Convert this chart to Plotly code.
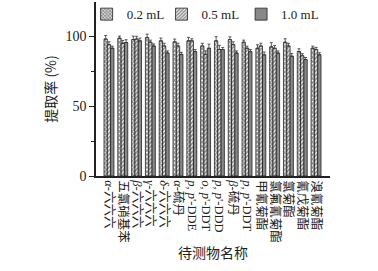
import plotly.graph_objects as go

cjk = lambda s: '<span style="font-family:Noto Sans CJK SC;font-size:12.5px">' + s + '</span>'
categories = ["<i>α</i>-" + cjk("六六六"), cjk("五氯硝基苯"), "<i>β</i>-" + cjk("六六六"), "<i>γ</i>-" + cjk("六六六"),
              "<i>δ</i>-" + cjk("六六六"), "<i>α</i>-" + cjk("硫丹"), "<i>p</i>, <i>p</i>'-DDE", "<i>o</i>, <i>p</i>'-DDT",
              "<i>p</i>, <i>p</i>'-DDD", "<i>β</i>-" + cjk("硫丹"), "<i>p</i>, <i>p</i>'-DDT", cjk("甲氰菊酯"),
              cjk("氯氟氰菊酯"), cjk("氯菊酯"), cjk("氰戊菊酯"), cjk("溴氰菊酯")]
series_names = ["0.2 mL", "0.5 mL", "1.0 mL"]
v02 = [98.0, 98.6, 97.6, 99.0, 96.7, 96.0, 96.7, 93.0, 96.7, 97.6, 95.7, 91.4, 92.4, 95.7, 89.0, 91.4]
v05 = [94.0, 95.0, 98.0, 95.7, 93.0, 93.0, 96.7, 87.0, 90.5, 94.0, 91.4, 93.0, 91.4, 93.0, 86.0, 90.5]
v10 = [91.4, 95.5, 96.7, 93.0, 88.0, 87.0, 89.0, 91.4, 90.5, 88.0, 89.0, 86.7, 88.0, 85.7, 83.3, 86.7]
e02 = [2.5, 1.5, 2.5, 2.5, 2.0, 2.0, 2.5, 2.0, 3.0, 2.0, 1.5, 2.5, 3.0, 2.5, 2.0, 1.5]
e05 = [2.0, 2.0, 2.0, 1.5, 2.0, 2.0, 1.5, 2.5, 3.0, 2.0, 1.5, 2.0, 2.0, 2.0, 1.5, 1.5]
e10 = [1.5, 2.0, 2.0, 1.5, 1.5, 1.5, 1.5, 3.0, 1.5, 1.5, 1.5, 2.0, 1.5, 2.0, 1.5, 1.5]

xs = list(range(len(categories)))
styles = [
    dict(color="white", pattern=dict(shape="x", fgcolor="#222", bgcolor="white", size=3, solidity=0.7)),
    dict(color="white", pattern=dict(shape="/", fgcolor="#222", bgcolor="white", size=3, solidity=0.65)),
    dict(color="#888888", pattern=dict(shape="")),
]
legend_ids = ["legend", "legend2", "legend3"]
legend_x = [-0.04, 0.28, 0.62]

fig = go.Figure()
for name, vals, errs, st, lg in zip(series_names, [v02, v05, v10], [e02, e05, e10], styles, legend_ids):
    fig.add_trace(go.Bar(
        x=xs, y=vals, name=name, legend=lg,
        marker=dict(color=st["color"], pattern=st["pattern"], line=dict(color="#222", width=0.8)),
        error_y=dict(type="data", array=errs, arrayminus=[0] * len(errs), symmetric=False,
                     color="#333", thickness=0.8, width=1.5),
    ))

serif = "Liberation Serif, Times New Roman, Noto Sans CJK SC, serif"
legend_style = dict(orientation="h", xanchor="left", y=0.93, yanchor="middle",
                    font=dict(size=13, family=serif), bgcolor="rgba(0,0,0,0)", itemwidth=30)
fig.update_layout(
    width=378, height=271,
    margin=dict(l=96, r=48, t=2, b=95, autoexpand=False),
    paper_bgcolor="white", plot_bgcolor="white",
    barmode="group", bargap=0.28, bargroupgap=0,
    font=dict(family=serif, size=12, color="#222"),
    showlegend=True,
    legend=dict(x=legend_x[0], **legend_style),
    legend2=dict(x=legend_x[1], **legend_style),
    legend3=dict(x=legend_x[2], **legend_style),
    xaxis=dict(range=[-0.94, 16.01], tickvals=xs, ticktext=categories, tickangle=90,
               showline=True, linecolor="#222", linewidth=1.5, ticks="", showgrid=False,
               zeroline=False, tickfont=dict(size=12.5, family=serif),
               title=dict(text="待测物名称", font=dict(size=14, family="Noto Sans CJK SC"), standoff=6)),
    yaxis=dict(range=[0, 124.5], tickvals=[0, 50, 100], showline=True, linecolor="#222", linewidth=1.5,
               ticks="outside", ticklen=5, tickwidth=1, tickcolor="#222", showgrid=False, zeroline=False,
               minor=dict(tickvals=[25, 75], ticks="outside", ticklen=3, tickcolor="#222"),
               tickfont=dict(size=14, family=serif),
               title=dict(text="提取率 (%)", font=dict(size=14, family="Noto Sans CJK SC, " + serif), standoff=6)),
)
fig.write_html("out.html")
